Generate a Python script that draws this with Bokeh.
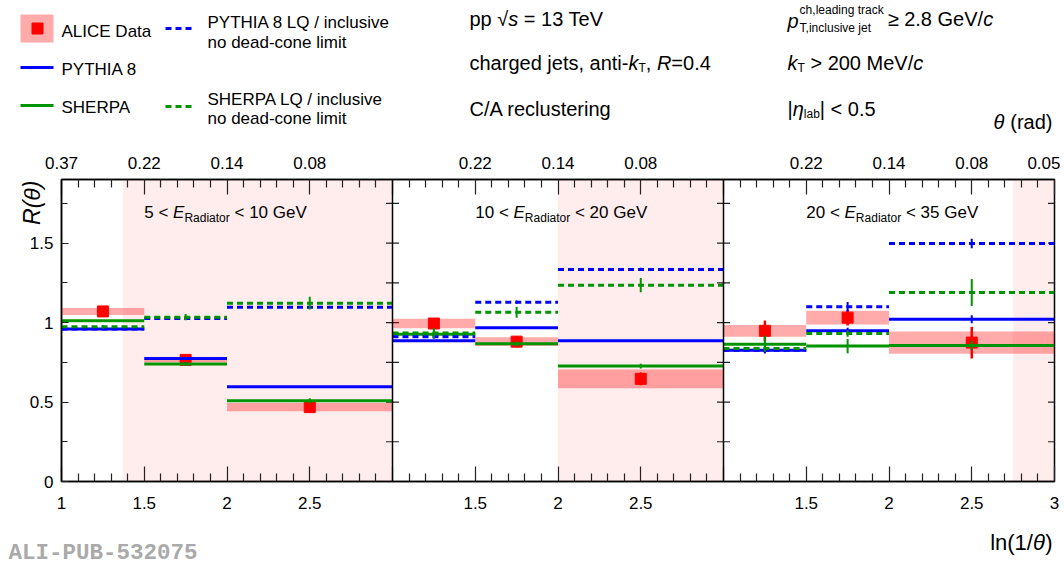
import math
from bokeh.plotting import figure
from bokeh.models import Range1d, FixedTicker, LinearAxis, Span, ColumnDataSource, Label
from bokeh.layouts import column
from bokeh.embed import file_html
from bokeh.resources import INLINE
from bokeh.core.properties import value

FONT = "Liberation Sans"

# ---------------- data ----------------
bin_edges = [1.0, 1.5, 2.0, 3.0]            # ln(1/theta) bins (same in every panel)
e_radiator_low = [5, 10, 20]
e_radiator_high = [10, 20, 35]
np_region_start = [1.37, 2.0, 2.75]          # start of shaded region in each panel

alice_val = [[1.070, 0.765, 0.468], [0.994, 0.880, 0.646], [0.948, 1.031, 0.874]]
alice_stat = [[0.010, 0.030, 0.035], [0.010, 0.035, 0.040], [0.065, 0.050, 0.100]]
alice_syst = [[0.022, 0.015, 0.026], [0.030, 0.027, 0.059], [0.037, 0.044, 0.070]]

pythia_val = [[0.960, 0.774, 0.596], [0.885, 0.967, 0.885], [0.826, 0.948, 1.021]]
pythia_err = [[0.005, 0.005, 0.005], [0.005, 0.005, 0.005], [0.020, 0.020, 0.025]]
sherpa_val = [[1.011, 0.740, 0.508], [0.927, 0.866, 0.726], [0.864, 0.852, 0.856]]
sherpa_err = [[0.005, 0.010, 0.015], [0.020, 0.015, 0.015], [0.055, 0.045, 0.030]]
pythia_lq_val = [[0.960, 1.025, 1.097], [0.910, 1.128, 1.334], [0.826, 1.099, 1.497]]
pythia_lq_err = [[0.005, 0.005, 0.005], [0.010, 0.010, 0.010], [0.010, 0.030, 0.030]]
sherpa_lq_val = [[0.973, 1.034, 1.122], [0.935, 1.065, 1.235], [0.836, 0.931, 1.189]]
sherpa_lq_err = [[0.010, 0.020, 0.040], [0.030, 0.035, 0.045], [0.020, 0.020, 0.085]]

ln_tick_pos = [1.0, 1.5, 2.0, 2.5, 3.0]
ln_tick_labels = [["1", "1.5", "2", "2.5", ""], ["", "1.5", "2", "2.5", ""], ["", "1.5", "2", "2.5", "3"]]
theta_tick_labels = [["0.37", "0.22", "0.14", "0.08", ""], ["", "0.22", "0.14", "0.08", ""],
                     ["", "0.22", "0.14", "0.08", "0.05"]]
y_major = [0.0, 0.5, 1.0, 1.5]
y_minor = [0.25, 0.75, 1.25, 1.75]
y_labels = ["0", "0.5", "1", "1.5"]
Y_MAX = 1.9

BLUE = "#0000ff"
GREEN = "#009400"
RED = "#ff0000"

# ---------------- layout geometry (pixels) ----------------
TOTAL_W = 1060
HEAD_H = 135
LEFT_B = 61
FRAME_W, FRAME_H = 993, 302
MAIN_TOP, MAIN_BOT, MAIN_RIGHT = 44, 36, TOTAL_W - 61 - 993
FOOT_H = 49

# ---------------- text width helper (Arial / Liberation Sans metrics) ----------------
CW = {' ': 278, '!': 278, '(': 333, ')': 333, ',': 278, '-': 333, '.': 278, '/': 278, ':': 278,
      '<': 584, '>': 584, '=': 584, '≥': 549, '|': 260, '√': 549, 'θ': 556, 'η': 556,
      'A': 667, 'B': 667, 'C': 722, 'D': 722, 'E': 667, 'F': 611, 'G': 778, 'H': 722, 'I': 278,
      'J': 500, 'K': 667, 'L': 556, 'M': 833, 'N': 722, 'O': 778, 'P': 667, 'Q': 778, 'R': 722,
      'S': 667, 'T': 611, 'U': 722, 'V': 667, 'W': 944, 'X': 667, 'Y': 667, 'Z': 611,
      'a': 556, 'b': 556, 'c': 500, 'd': 556, 'e': 556, 'f': 278, 'g': 556, 'h': 556, 'i': 222,
      'j': 222, 'k': 500, 'l': 222, 'm': 833, 'n': 556, 'o': 556, 'p': 556, 'q': 556, 'r': 333,
      's': 500, 't': 278, 'u': 556, 'v': 500, 'w': 722, 'x': 500, 'y': 500, 'z': 500}
for d in "0123456789":
    CW[d] = 556


def tw(s, size):
    return sum(CW.get(ch, 556) for ch in s) * size / 1000.0


def new_rows():
    return {"x": [], "y": [], "text": [], "xo": [], "yo": [], "size": [], "style": []}


def rich(rows, x, y, pieces, x0=0.0):
    """pieces: (text, size_px, style, dy) placed left to right; dy positive = down."""
    xo = x0
    for text, size, style, dy in pieces:
        body = text.lstrip(" ")
        lead = tw(text[:len(text) - len(body)], size)
        rows["x"].append(x)
        rows["y"].append(y)
        rows["text"].append(body)
        rows["xo"].append(xo + lead)
        rows["yo"].append(dy)
        rows["size"].append(f"{size}px")
        rows["style"].append(style)
        xo += tw(text, size)
    return xo


def draw_rows(fig, rows, font=FONT, color="black"):
    fig.text(x="x", y="y", text="text", x_offset="xo", y_offset="yo", text_font_size="size",
             text_font_style="style", text_font=value(font), text_color=color,
             text_baseline="middle", text_align="left", source=ColumnDataSource(rows))


def no_align(fig):
    try:
        fig.frame_align = False
    except Exception:
        pass


def pixel_fig(w, h):
    f = figure(width=w, height=h, x_range=Range1d(0, w), y_range=Range1d(h, 0),
               x_axis_type=None, y_axis_type=None, min_border=0, toolbar_location=None,
               output_backend="svg", outline_line_color=None)
    f.grid.visible = False
    no_align(f)
    return f


# ---------------- header (legend + info) ----------------
hdr = pixel_fig(TOTAL_W, HEAD_H)
hdr.quad(left=[20], right=[53], top=[14], bottom=[42], fill_color=RED, fill_alpha=0.33, line_color=None)
hdr.scatter(x=[37], y=[28], marker="square", size=11, color=RED)
hdr.segment(x0=[20], x1=[53], y0=[67], y1=[67], line_color=BLUE, line_width=3)
hdr.segment(x0=[20], x1=[53], y0=[105], y1=[105], line_color=GREEN, line_width=3)
hdr.segment(x0=[165], x1=[194], y0=[28], y1=[28], line_color=BLUE, line_width=3, line_dash="6 4")
hdr.segment(x0=[165], x1=[194], y0=[106], y1=[106], line_color=GREEN, line_width=3, line_dash="6 4")

hrows = new_rows()
F = 17      # legend font
G = 20      # info font
S = 12      # sub/superscripts
rich(hrows, 61, 31, [("ALICE Data", F, "normal", 0)])
rich(hrows, 61, 69, [("PYTHIA 8", F, "normal", 0)])
rich(hrows, 61, 107, [("SHERPA", F, "normal", 0)])
rich(hrows, 207, 22, [("PYTHIA 8 LQ / inclusive", F, "normal", 0)])
rich(hrows, 207, 42, [("no dead-cone limit", F, "normal", 0)])
rich(hrows, 207, 99, [("SHERPA LQ / inclusive", F, "normal", 0)])
rich(hrows, 207, 118, [("no dead-cone limit", F, "normal", 0)])

rich(hrows, 469, 18, [("pp ", G, "normal", 0), ("√", G, "normal", 0), ("s", G, "italic", 0),
                      (" = 13 TeV", G, "normal", 0)])
rich(hrows, 469, 62, [("charged jets, anti-", G, "normal", 0), ("k", G, "italic", 0),
                      ("T", S, "normal", 5), (", ", G, "normal", 0), ("R", G, "italic", 0),
                      ("=0.4", G, "normal", 0)])
rich(hrows, 469, 108, [("C/A reclustering", G, "normal", 0)])

xo = rich(hrows, 787, 18, [("p", G, "italic", 2)])
rich(hrows, 787, 18, [("ch,leading track", S, "normal", -9)], x0=xo + 1)
rich(hrows, 787, 18, [("T,inclusive jet", S, "normal", 9)], x0=xo + 1)
x3 = xo + 1 + max(tw("ch,leading track", S), tw("T,inclusive jet", S)) + 4
rich(hrows, 787, 18, [("≥ 2.8 GeV/", G, "normal", 0), ("c", G, "italic", 0)], x0=x3)
rich(hrows, 787, 62, [("k", G, "italic", 0), ("T", S, "normal", 5), (" > 200 MeV/", G, "normal", 0),
                      ("c", G, "italic", 0)])
rich(hrows, 787, 108, [("|", G, "normal", 0), ("η", G, "italic", 0), ("lab", S, "normal", 5),
                       ("| < 0.5", G, "normal", 0)])
TH = 20
rich(hrows, 1052 - tw("θ (rad)", TH), 121, [("θ", TH, "italic", 0), (" (rad)", TH, "normal", 0)])
draw_rows(hdr, hrows)

# ---------------- main plot (three panels side by side) ----------------
SPAN = bin_edges[-1] - bin_edges[0]


def gx(k, x):
    return x + k * SPAN


XMIN, XMAX = bin_edges[0], gx(2, bin_edges[-1])
p = figure(frame_width=FRAME_W, frame_height=FRAME_H, x_range=Range1d(XMIN, XMAX), y_range=Range1d(0, Y_MAX),
           x_axis_type=None, y_axis_type=None, min_border_left=LEFT_B, min_border_right=MAIN_RIGHT,
           min_border_top=MAIN_TOP, min_border_bottom=MAIN_BOT, toolbar_location=None, output_backend="svg",
           outline_line_color="black", outline_line_width=1.5)
p.grid.visible = False
no_align(p)

x_major = sorted(set(gx(k, t) for k in range(3) for t in ln_tick_pos))
bottom_over, top_over = {}, {}
for k in range(3):
    for t, lb, lt in zip(ln_tick_pos, ln_tick_labels[k], theta_tick_labels[k]):
        key = gx(k, t)
        if lb or key not in bottom_over:
            bottom_over[key] = lb
        if lt or key not in top_over:
            top_over[key] = lt
n_min = int(round((XMAX - XMIN) / 0.1))
x_minor = [round(XMIN + 0.1 * i, 3) for i in range(n_min + 1)]
x_minor = [v for v in x_minor if all(abs(v - m) > 1e-6 for m in x_major)]

TICK_C = "#222222"


def style_axis(ax, ticks, minor, over, tin, mtin, standoff):
    ax.ticker = FixedTicker(ticks=ticks, minor_ticks=minor)
    ax.major_label_overrides = over
    ax.major_tick_in = tin
    ax.major_tick_out = 0
    ax.minor_tick_in = mtin
    ax.minor_tick_out = 0
    ax.major_label_standoff = standoff
    ax.major_label_text_font = FONT
    ax.major_label_text_font_size = "17px"
    ax.major_label_text_color = "black"
    ax.axis_line_color = "black"
    ax.axis_line_width = 1.5
    ax.major_tick_line_color = TICK_C
    ax.minor_tick_line_color = TICK_C
    ax.major_tick_line_width = 1.2
    ax.minor_tick_line_width = 1.2


ax_b = LinearAxis()
style_axis(ax_b, x_major, x_minor, bottom_over, 15, 8, 15)
p.add_layout(ax_b, "below")
ax_t = LinearAxis()
style_axis(ax_t, x_major, x_minor, top_over, 15, 8, 11)
p.add_layout(ax_t, "above")
ax_l = LinearAxis()
style_axis(ax_l, y_major, y_minor, {v: s for v, s in zip(y_major, y_labels)}, 7, 6, 8)
p.add_layout(ax_l, "left")

# y title in the left side panel, near the top of the axis
p.add_layout(Label(x=31, y=FRAME_H - 1, x_units="screen", y_units="screen", text="R(θ)",
                   angle=math.pi / 2, text_align="right", text_baseline="middle", text_font=FONT,
                   text_font_size="23px", text_font_style="italic", text_color="black"), "left")

# shaded regions
p.quad(left=[gx(k, np_region_start[k]) for k in range(3)], right=[gx(k, bin_edges[-1]) for k in range(3)],
       bottom=0, top=Y_MAX, fill_color=RED, fill_alpha=0.07, line_color=None)

# panel dividers
for k in (1, 2):
    p.add_layout(Span(location=gx(k, bin_edges[0]), dimension="height", line_color="black", line_width=1.5))

# y ticks on dividers (both sides) and right edge
DX = 6.5 * (XMAX - XMIN) / FRAME_W
yt = y_major[1:] + y_minor
tx0, tx1, ty = [], [], []
for v in yt:
    tx0.append(XMAX - DX); tx1.append(XMAX); ty.append(v)
    for k in (1, 2):
        xb = gx(k, bin_edges[0])
        tx0.append(xb - DX); tx1.append(xb + DX); ty.append(v)
p.segment(x0=tx0, x1=tx1, y0=ty, y1=ty, line_color=TICK_C, line_width=1.2)

# per-bin arrays
lo, hi, ce = [], [], []
for k in range(3):
    for b in range(3):
        lo.append(gx(k, bin_edges[b]))
        hi.append(gx(k, bin_edges[b + 1]))
        ce.append(gx(k, 0.5 * (bin_edges[b] + bin_edges[b + 1])))


def flat(a):
    return [v for r in a for v in r]


av, ast, asy = flat(alice_val), flat(alice_stat), flat(alice_syst)
p.quad(left=lo, right=hi, bottom=[v - s for v, s in zip(av, asy)], top=[v + s for v, s in zip(av, asy)],
       fill_color=RED, fill_alpha=0.33, line_color=None)
p.segment(x0=ce, x1=ce, y0=[v - s for v, s in zip(av, ast)], y1=[v + s for v, s in zip(av, ast)],
          line_color=RED, line_width=2.5)
p.scatter(x=ce, y=av, marker="square", size=11, color=RED)


def model(vals, errs, color, dash):
    v, e = flat(vals), flat(errs)
    p.segment(x0=lo, x1=hi, y0=v, y1=v, line_color=color, line_width=3, line_dash=dash)
    p.segment(x0=ce, x1=ce, y0=[a - b for a, b in zip(v, e)], y1=[a + b for a, b in zip(v, e)],
              line_color=color, line_width=2)


model(sherpa_val, sherpa_err, GREEN, "solid")
model(pythia_val, pythia_err, BLUE, "solid")
model(pythia_lq_val, pythia_lq_err, BLUE, "6 4")
model(sherpa_lq_val, sherpa_lq_err, GREEN, "6 4")

prow = new_rows()
for k in range(3):
    rich(prow, gx(k, 1.5), 1.69, [(f"{e_radiator_low[k]} < ", 17, "normal", 0), ("E", 17, "italic", 0),
                                  ("Radiator", 12, "normal", 5),
                                  (f" < {e_radiator_high[k]} GeV", 17, "normal", 0)])
draw_rows(p, prow)

# ---------------- footer: x title + figure id ----------------
foot = pixel_fig(TOTAL_W, FOOT_H)
frows = new_rows()
LS = 22
rich(frows, 1052 - tw("ln(1/θ)", LS), 25, [("ln(1/", LS, "normal", 0), ("θ", LS, "italic", 0),
                                           (")", LS, "normal", 0)])
draw_rows(foot, frows)
foot.text(x=[8], y=[35], text=["ALI-PUB-532075"], text_align="left", text_baseline="middle",
          text_font=value("Liberation Mono"), text_font_size="22.5px", text_font_style="bold",
          text_color="#aaaaaa")

layout = column(hdr, p, foot, spacing=0)
open("out.html", "w").write(file_html(layout, INLINE))
